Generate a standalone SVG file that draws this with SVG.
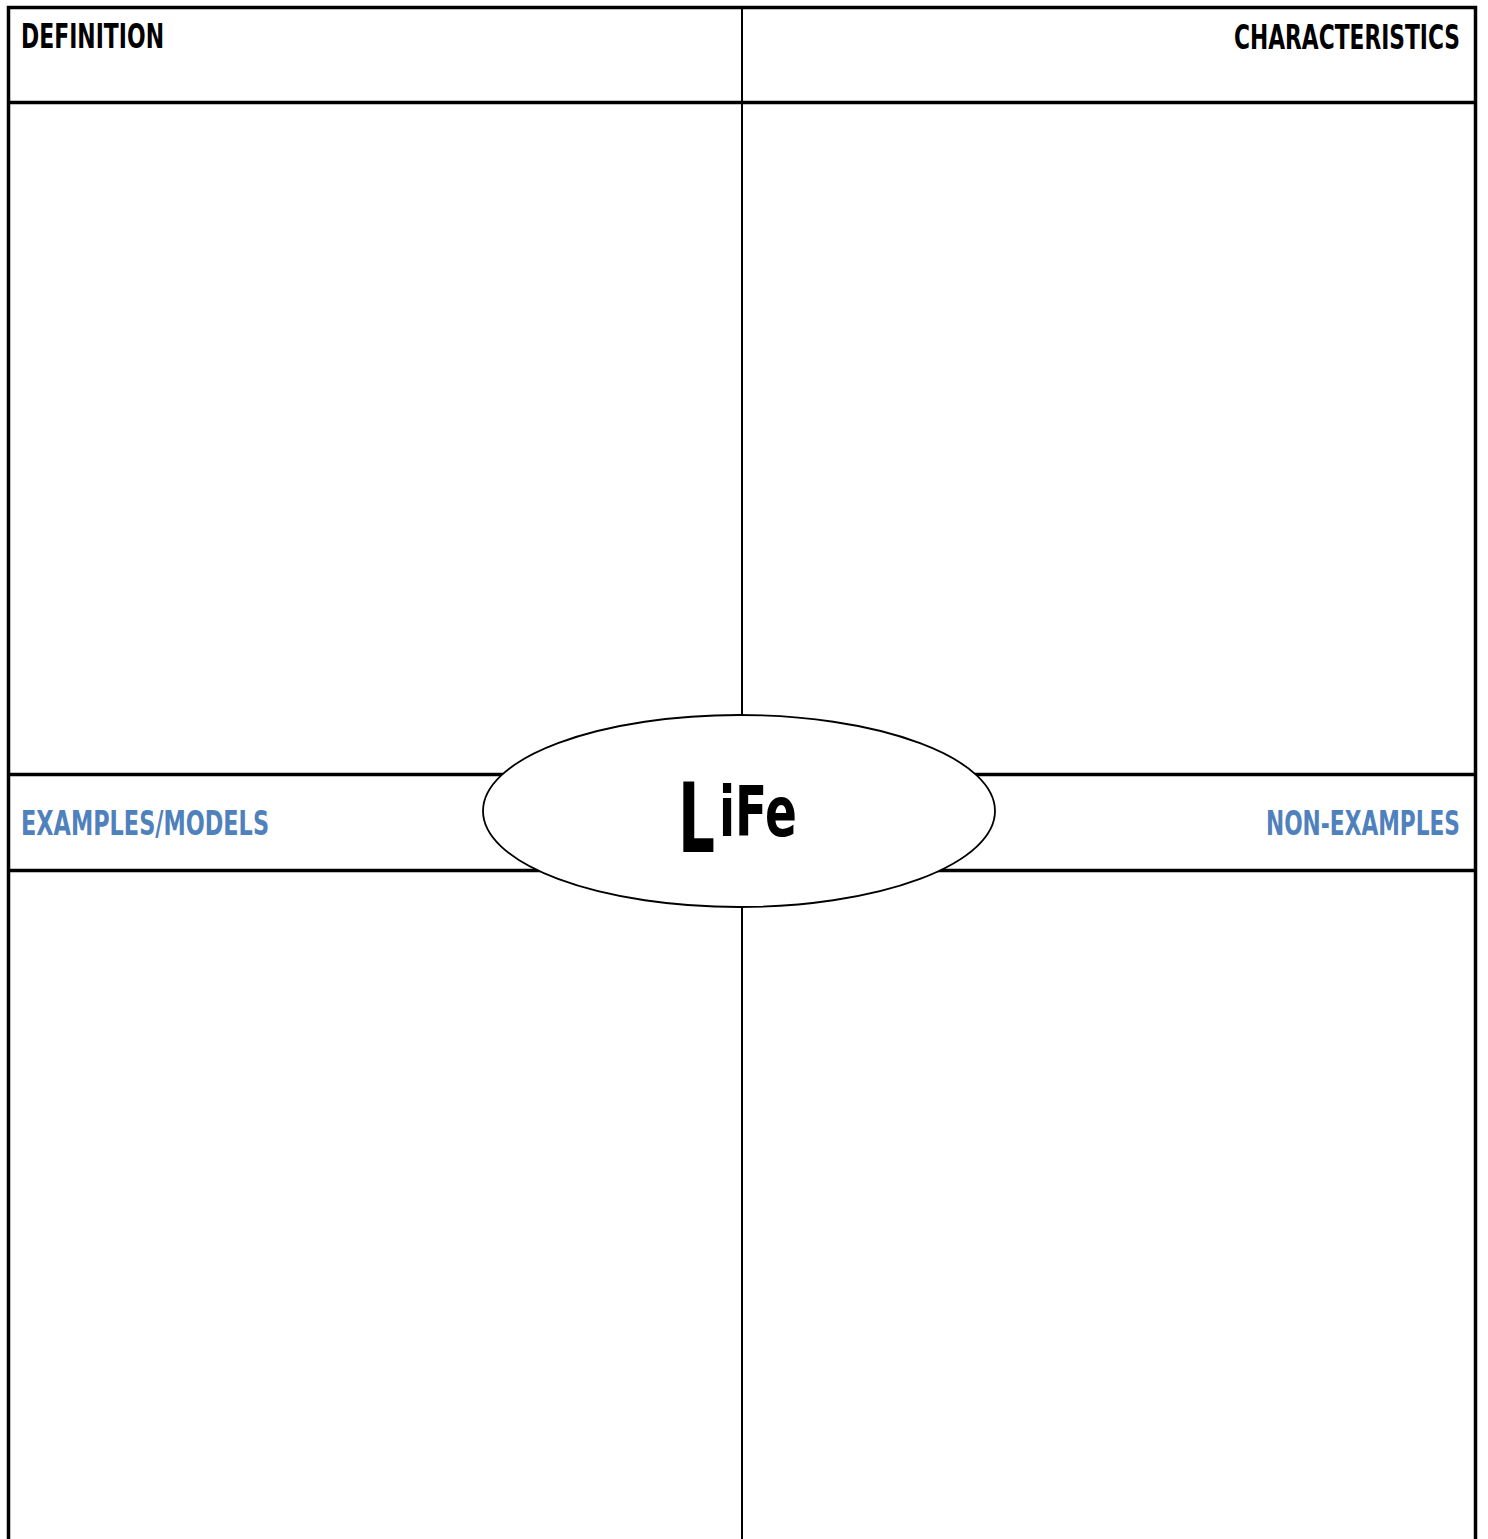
<svg xmlns="http://www.w3.org/2000/svg" width="1488" height="1539" viewBox="0 0 1488 1539">
<style>
.thick{stroke:#000;stroke-width:3.5;fill:none}
.thin{stroke:#000;stroke-width:2;fill:none}
.lbl{font-family:"DejaVu Sans Condensed","DejaVu Sans",sans-serif;font-weight:bold;font-size:24px}
.blk{fill:#000}
.blue{fill:#4f81bd}
.big{font-family:"DejaVu Sans Condensed","DejaVu Sans",sans-serif;font-weight:bold;fill:#000}
</style>
<rect width="1488" height="1539" fill="#fff"/>
<g id="connectors">
<path class="thick" d="M8.5,1539 V7.5 H1475.5 V1539"/>
<line class="thick" x1="8.5" y1="102.5" x2="1475.5" y2="102.5"/>
<line class="thick" x1="8.5" y1="774.5" x2="1475.5" y2="774.5"/>
<line class="thick" x1="8.5" y1="870.5" x2="1475.5" y2="870.5"/>
<line class="thin" x1="742" y1="7.5" x2="742" y2="1539"/>
</g>
<g id="definition"><text class="lbl blk" transform="translate(21,48) scale(1,1.4)" textLength="143" lengthAdjust="spacingAndGlyphs">DEFINITION</text></g>
<g id="characteristics"><text class="lbl blk" transform="translate(1234,49) scale(1,1.4)" textLength="226" lengthAdjust="spacingAndGlyphs">CHARACTERISTICS</text></g>
<g id="examples"><text class="lbl blue" transform="translate(21,835) scale(1,1.4)" textLength="248" lengthAdjust="spacingAndGlyphs">EXAMPLES/MODELS</text></g>
<g id="nonexamples"><text class="lbl blue" transform="translate(1266,835) scale(1,1.4)" textLength="194" lengthAdjust="spacingAndGlyphs">NON-EXAMPLES</text></g>
<g id="life">
<ellipse cx="739" cy="811" rx="256" ry="96" fill="#fff" stroke="#000" stroke-width="1.8"/>
<text class="big" font-size="64" transform="translate(678,852) scale(1,1.5)" textLength="37" lengthAdjust="spacingAndGlyphs">L</text>
<text class="big" font-size="52" transform="translate(719,836) scale(1,1.33)" textLength="78" lengthAdjust="spacingAndGlyphs">iFe</text>
</g>
</svg>
